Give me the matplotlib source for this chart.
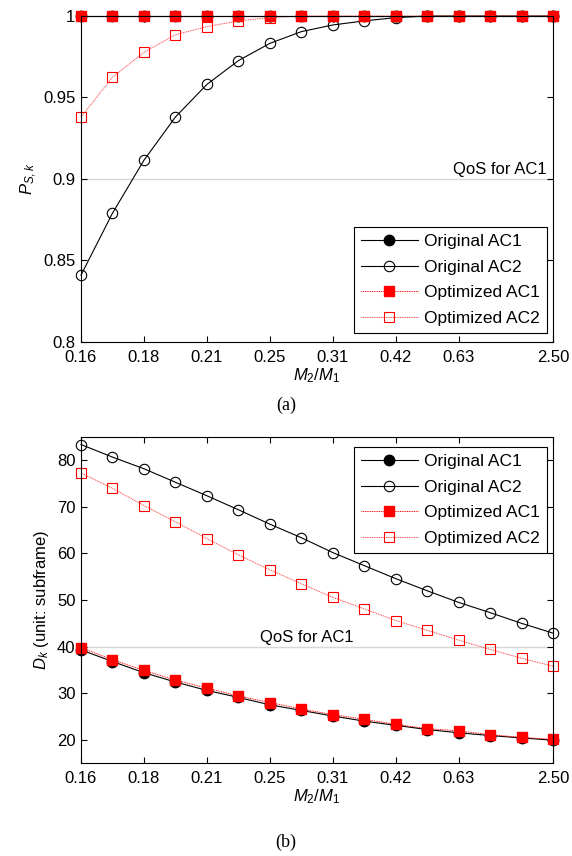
import matplotlib
matplotlib.use('Agg')
import matplotlib.pyplot as plt
import numpy as np

plt.rcParams['font.family'] = ['Liberation Sans', 'DejaVu Sans']
plt.rcParams['mathtext.fontset'] = 'custom'
plt.rcParams['mathtext.rm'] = 'Liberation Sans'
plt.rcParams['mathtext.it'] = 'Liberation Sans:italic'
plt.rcParams['font.size'] = 12

# x axis: M2/M1 (16 points, equally spaced on the plot)
tick_idx = [0, 2, 4, 6, 8, 10, 12, 15]
tick_labels = ['0.16', '0.18', '0.21', '0.25', '0.31', '0.42', '0.63', '2.50']
n_points = 16

# (a) success probability
ps_orig_ac1 = [1.0] * 16
ps_orig_ac2 = [0.841, 0.879, 0.9115, 0.938, 0.958, 0.9726, 0.9832, 0.9904,
               0.9945, 0.997, 0.999, 1.0, 1.0, 1.0, 1.0, 1.0]
ps_opt_ac1 = [1.0] * 16
ps_opt_ac2 = [0.938, 0.9624, 0.9777, 0.9885, 0.9935, 0.997, 0.999, 1.0,
              1.0, 1.0, 1.0, 1.0, 1.0, 1.0, 1.0, 1.0]

# (b) delay in subframes
d_orig_ac1 = [39.3, 36.8, 34.4, 32.4, 30.6, 29.1, 27.5, 26.3,
              25.1, 24.0, 23.1, 22.2, 21.5, 20.9, 20.4, 19.9]
d_orig_ac2 = [83.4, 80.7, 78.2, 75.3, 72.4, 69.4, 66.3, 63.4,
              60.2, 57.4, 54.6, 52.0, 49.5, 47.3, 45.0, 42.9]
d_opt_ac1 = [39.8, 37.2, 34.9, 32.8, 31.1, 29.4, 28.0, 26.6,
             25.4, 24.4, 23.3, 22.4, 21.9, 21.1, 20.5, 20.1]
d_opt_ac2 = [77.3, 74.0, 70.3, 66.8, 63.2, 59.7, 56.5, 53.5,
             50.6, 48.1, 45.6, 43.5, 41.4, 39.4, 37.5, 35.8]

qos_ps = 0.9
qos_d = 40

x = np.arange(n_points)

fig = plt.figure(figsize=(5.72, 8.56), dpi=100)
ax1 = fig.add_axes([0.1416, 0.6005, 0.8252, 0.3808])
ax2 = fig.add_axes([0.1416, 0.1086, 0.8252, 0.3808])


def draw(ax, o1, o2, p1, p2):
    ax.plot(x, o1, '-', color='black', lw=0.8, marker='o', ms=7.5,
            mfc='black', mec='black', label='Original AC1', clip_on=False)
    ax.plot(x, o2, '-', color='black', lw=0.8, marker='o', ms=7.5,
            mfc='none', mec='black', mew=0.8, label='Original AC2', clip_on=False)
    ax.plot(x, p1, color='red', ls=(0, (1, 0.8)), lw=0.7, marker='s', ms=7.5,
            mfc='red', mec='red', label='Optimized AC1', clip_on=False)
    ax.plot(x, p2, color='#ff4040', ls=(0, (1, 0.8)), lw=0.7, marker='s', ms=7.5,
            mfc='none', mec='red', mew=0.8, label='Optimized AC2', clip_on=False)
    ax.set_xlim(0, n_points - 1)
    ax.set_xticks(tick_idx)
    ax.set_xticklabels(tick_labels)
    ax.tick_params(direction='in', length=4, width=0.8, top=True, right=True,
                   labelsize=12, pad=4)
    ax.tick_params(axis='x', pad=6)
    for s in ax.spines.values():
        s.set_linewidth(0.8)
    ax.set_xlabel('$M_2/M_1$', fontsize=12, labelpad=1)


def legend(ax, loc, anchor):
    leg = ax.legend(loc=loc, bbox_to_anchor=anchor, fancybox=False,
                    edgecolor='black', framealpha=1, handlelength=3.3,
                    handletextpad=0.35, labelspacing=0.6, borderpad=0.4,
                    borderaxespad=0, fontsize=12.5)
    leg.get_frame().set_linewidth(0.8)


draw(ax1, ps_orig_ac1, ps_orig_ac2, ps_opt_ac1, ps_opt_ac2)
ax1.axhline(qos_ps, color='#d8d8d0', lw=1, zorder=0)
ax1.text(14.8, qos_ps + 0.001, 'QoS for AC1', ha='right', va='bottom', fontsize=12)
ax1.set_ylim(0.8, 1.0)
ax1.set_yticks([0.8, 0.85, 0.9, 0.95, 1.0])
ax1.set_yticklabels(['0.8', '0.85', '0.9', '0.95', '1'])
ax1.set_ylabel('$P_{S,k}$', fontsize=12, labelpad=3)
legend(ax1, 'lower right', (0.987, 0.028))

draw(ax2, d_orig_ac1, d_orig_ac2, d_opt_ac1, d_opt_ac2)
ax2.axhline(qos_d, color='#d8d8d0', lw=1, zorder=0)
ax2.text(5.7, qos_d + 0.3, 'QoS for AC1', ha='left', va='bottom', fontsize=12)
ax2.set_ylim(15, 85)
ax2.set_yticks([20, 30, 40, 50, 60, 70, 80])
ax2.set_ylabel('$D_k$ (unit: subframe)', fontsize=12, labelpad=4)
legend(ax2, 'upper right', (0.987, 0.969))

fig.text(0.5, 1 - 405 / 856, '(a)', ha='center', va='center',
         family='Liberation Serif', fontsize=13)
fig.text(0.5, 1 - 842 / 856, '(b)', ha='center', va='center',
         family='Liberation Serif', fontsize=13)

fig.savefig('out.png', dpi=100)
